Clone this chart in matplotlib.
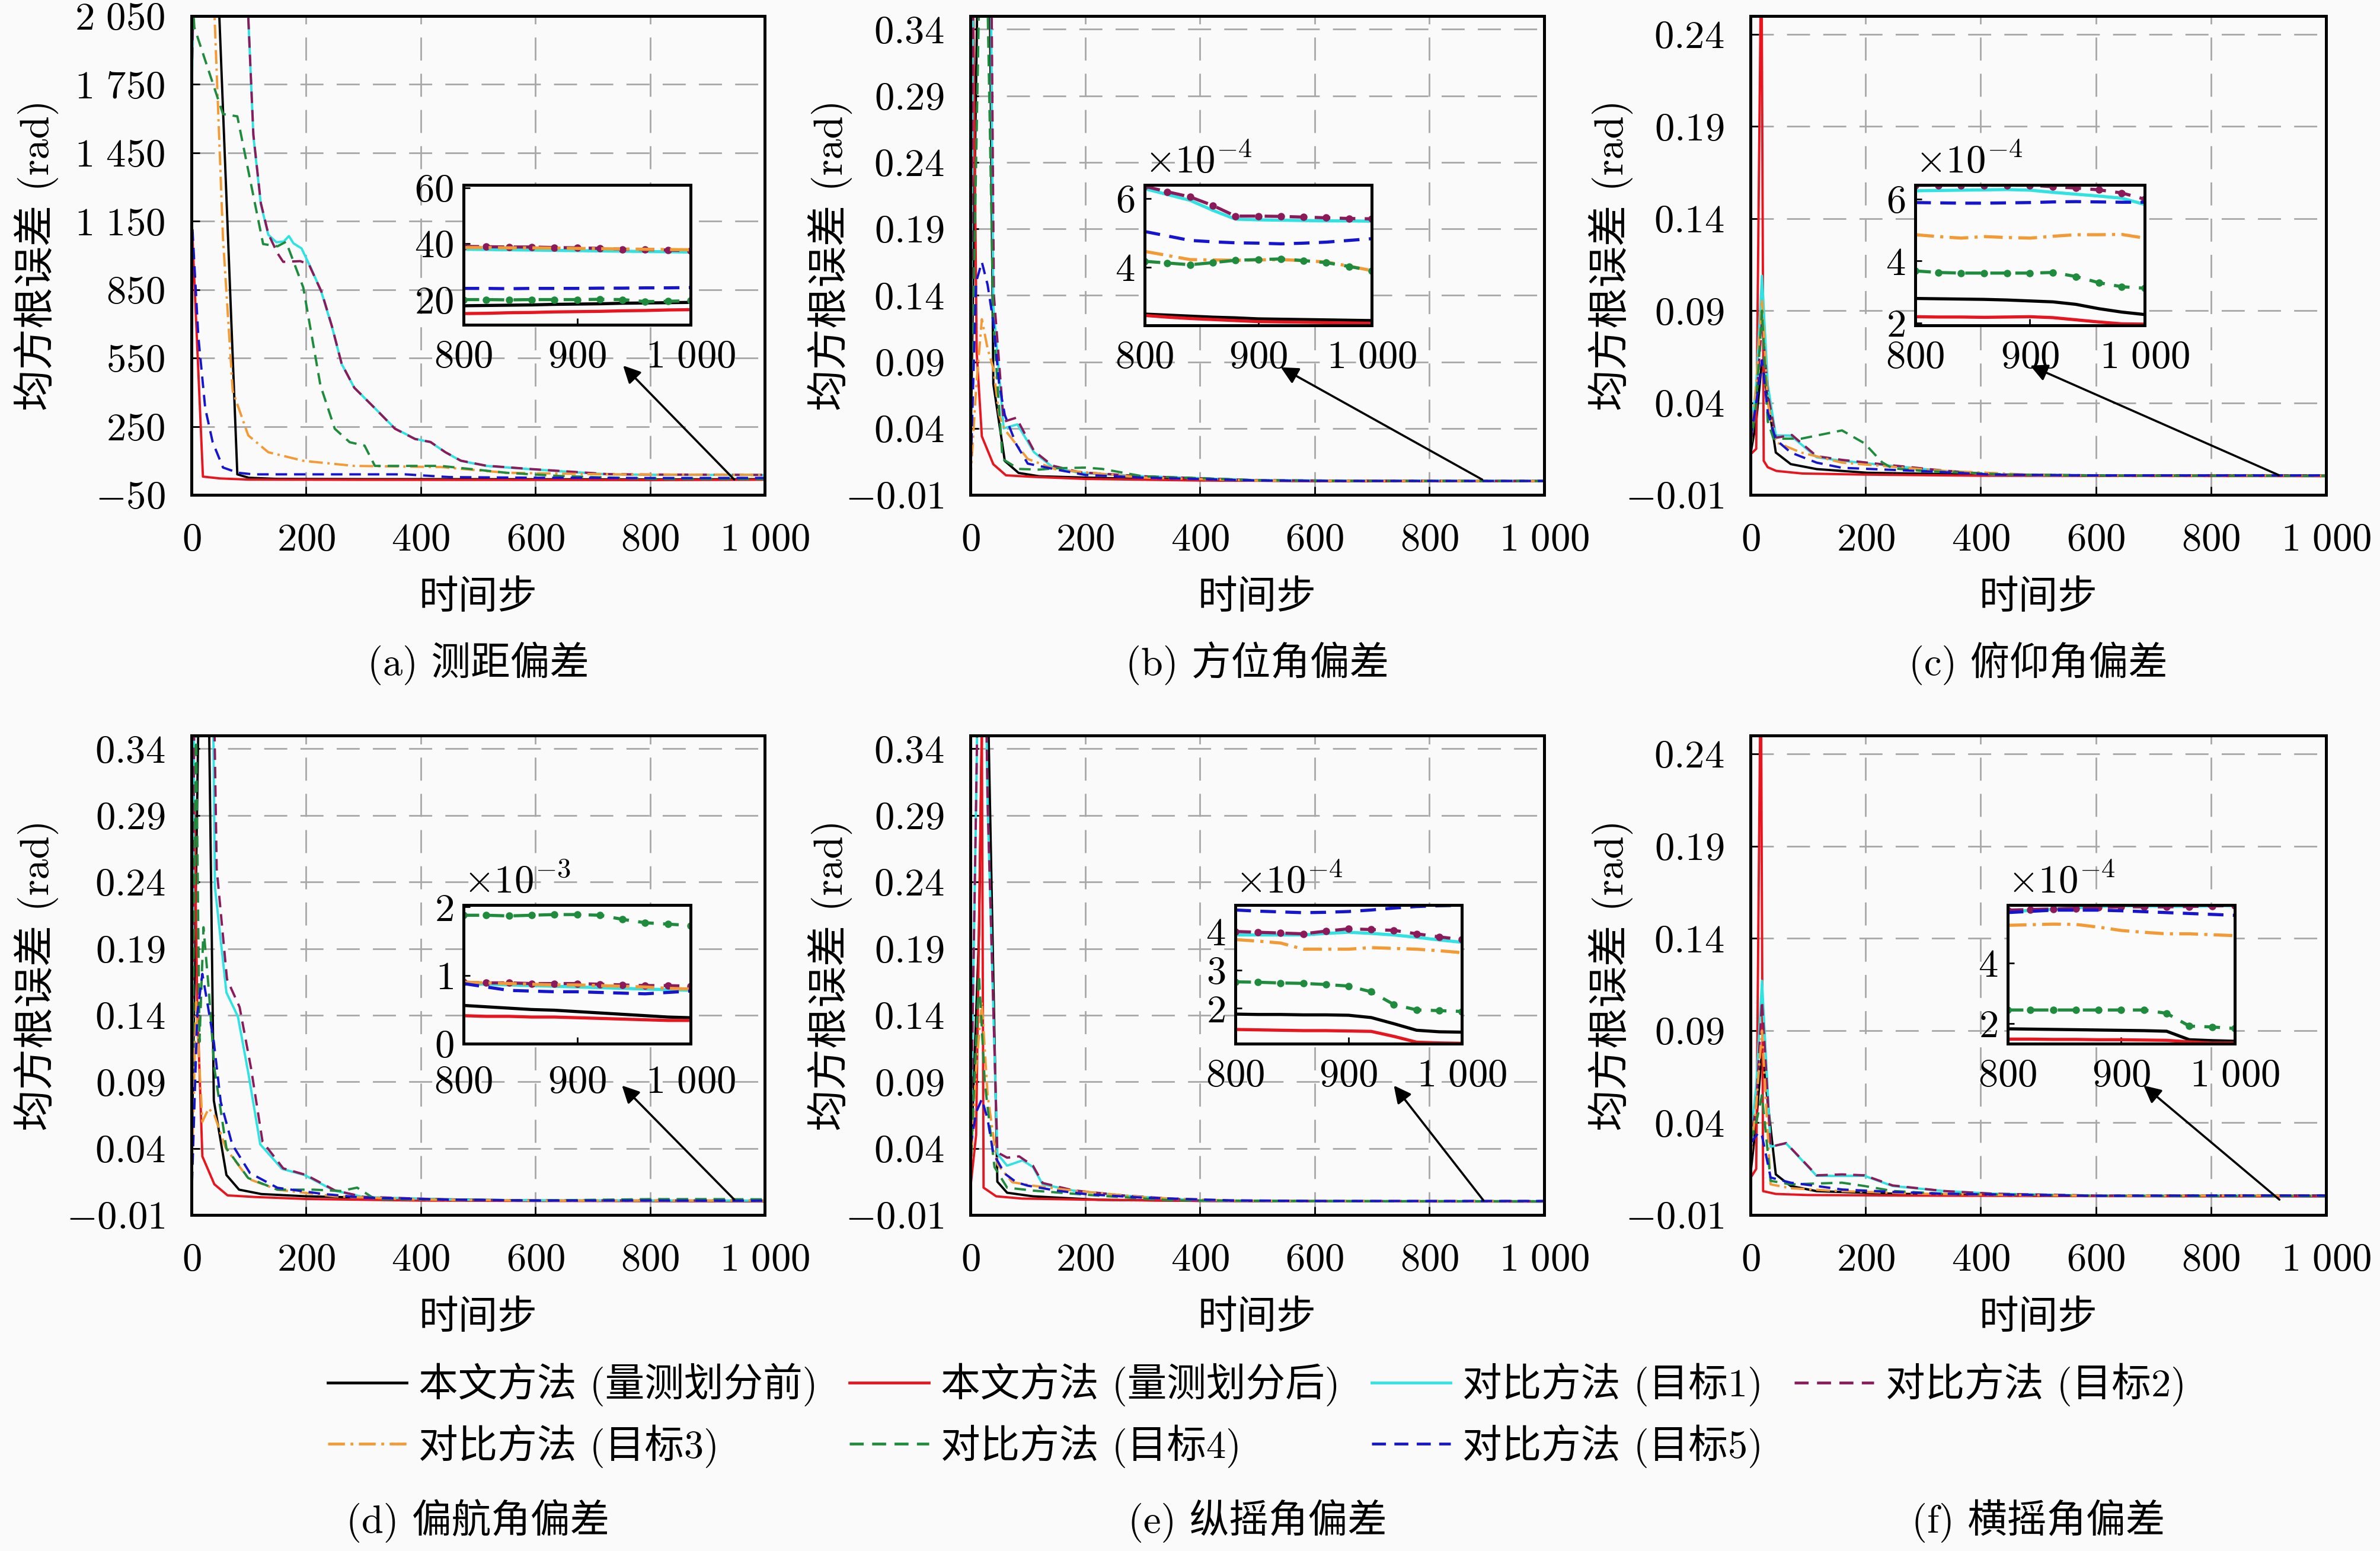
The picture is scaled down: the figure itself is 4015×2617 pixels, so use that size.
import matplotlib.pyplot as plt
from matplotlib.lines import Line2D

plt.rcParams['font.family'] = ['cmr10', 'Noto Sans CJK SC', 'DejaVu Sans']
plt.rcParams['mathtext.fontset'] = 'cm'
plt.rcParams['axes.formatter.use_mathtext'] = True
plt.rcParams['font.size'] = 24

# time steps of the zoomed tail (insets)
T_TAIL = [800, 820, 840, 860, 880, 900, 920, 940, 960, 980, 1000]

# ---------------- (a) 测距偏差  (tail in raw units)
a_pre_t = [0, 40, 80, 100, 150, 300, 600]
a_pre_y = [3000, 2600, 40, 25, 20, 19, 18.5]
a_pre_tail = [17.8, 17.9, 18.0, 18.1, 18.3, 18.4, 18.5, 18.7, 18.8, 18.9, 19.0]
a_post_t = [0, 20, 50, 100, 300, 600]
a_post_y = [1180, 30, 22, 17, 16, 15.5]
a_post_tail = [15.0, 15.1, 15.3, 15.4, 15.6, 15.7, 15.8, 16.0, 16.1, 16.3, 16.4]
a_m1_t = [0, 10, 90, 99, 108, 121, 134, 148, 161, 170, 178, 192, 209, 227, 245, 262, 284,
          320, 355, 390, 417, 443, 470, 514, 594, 726]
a_m1_y = [1650, 3000, 2600, 2050, 1524, 1225, 1091, 1058, 1061, 1085, 1053, 1031, 942, 837,
          688, 524, 420, 330, 241, 196, 181, 137, 99, 77, 62, 40]
a_m1_tail = [38.0, 37.9, 37.8, 37.7, 37.6, 37.5, 37.4, 37.3, 37.2, 37.1, 37.0]
a_m2_t = [0, 10, 90, 99, 108, 121, 134, 150, 160, 190, 205, 227, 245, 262, 284, 320, 355,
          390, 417, 443, 470, 514, 594, 726]
a_m2_y = [1700, 3000, 2600, 2050, 1530, 1230, 1095, 1010, 972, 975, 960, 840, 690, 525, 420,
          330, 240, 195, 182, 137, 100, 78, 63, 41]
a_m2_tail = [39.0, 38.9, 38.8, 38.8, 38.6, 38.5, 38.3, 38.0, 37.9, 37.7, 37.5]
a_m3_t = [0, 35, 55, 72, 99, 134, 196, 284, 435, 549, 726]
a_m3_y = [3000, 2400, 1075, 405, 211, 137, 99, 77, 72, 47, 40]
a_m3_tail = [38.6, 38.6, 38.5, 38.5, 38.4, 38.3, 38.2, 38.1, 38.0, 37.9, 37.8]
a_m4_t = [0, 5, 55, 80, 125, 150, 165, 195, 225, 250, 276, 302, 320, 435, 549, 640]
a_m4_y = [2200, 2000, 1620, 1610, 1050, 1040, 1060, 860, 430, 240, 181, 166, 77, 77, 47, 33]
a_m4_tail = [20.0, 20.0, 19.9, 20.0, 20.0, 20.0, 20.1, 20.0, 19.3, 19.4, 19.6]
a_m5_t = [0, 12, 24, 37, 55, 81, 108, 373, 450, 600]
a_m5_y = [1195, 643, 330, 181, 70, 47, 40, 40, 28, 25]
a_m5_tail = [24.0, 24.0, 23.9, 24.0, 24.0, 24.0, 24.1, 24.1, 24.2, 24.2, 24.3]

# ---------------- (b) 方位角偏差  (tail x1e-4)
b_pre_t = [0, 10, 20, 34, 40, 60, 84, 120, 200, 300, 450, 600]
b_pre_y = [0.01, 0.30, 0.60, 0.36, 0.0735, 0.0155, 0.0065, 0.004, 0.003, 0.002, 0.0008, 0.0004]
b_pre_tail = [2.63, 2.60, 2.57, 2.54, 2.52, 2.49, 2.48, 2.47, 2.46, 2.45, 2.44]
b_post_t = [0, 5, 11, 20, 40, 62, 111, 200, 400, 600]
b_post_y = [0.0, 0.36, 0.097, 0.034, 0.013, 0.0047, 0.0035, 0.002, 0.0008, 0.0004]
b_post_tail = [2.59, 2.54, 2.50, 2.47, 2.44, 2.41, 2.40, 2.39, 2.38, 2.37, 2.36]
b_m1_t = [0, 5, 20, 36, 40, 58, 82, 111, 143, 190, 300, 500, 650]
b_m1_y = [0.0, 0.38, 0.8, 0.36, 0.132, 0.040, 0.043, 0.022, 0.011, 0.0065, 0.004, 0.001, 0.0007]
b_m1_tail = [6.29, 6.12, 5.95, 5.66, 5.40, 5.38, 5.37, 5.36, 5.35, 5.35, 5.34]
b_m2_t = [0, 5, 20, 37, 41, 58, 80, 111, 143, 190, 300, 500, 650]
b_m2_y = [0.0, 0.38, 0.8, 0.36, 0.14, 0.045, 0.048, 0.023, 0.012, 0.007, 0.004, 0.001, 0.0007]
b_m2_tail = [6.36, 6.20, 6.05, 5.80, 5.49, 5.49, 5.48, 5.46, 5.44, 5.42, 5.41]
b_m3_t = [0, 10, 20, 30, 40, 50, 60, 80, 100, 150, 200, 300, 500, 650]
b_m3_y = [0.0, 0.07, 0.122, 0.10, 0.085, 0.05, 0.039, 0.028, 0.017, 0.009, 0.007, 0.003, 0.0008, 0.0005]
b_m3_tail = [4.46, 4.34, 4.22, 4.21, 4.20, 4.21, 4.22, 4.19, 4.15, 4.03, 3.90]
b_m4_t = [0, 15, 22, 30, 40, 56, 84, 120, 150, 200, 230, 300, 500, 650]
b_m4_y = [0.0, 0.36, 0.7, 0.36, 0.12, 0.017, 0.0095, 0.009, 0.01, 0.0105, 0.0095, 0.004, 0.001, 0.0005]
b_m4_tail = [4.17, 4.12, 4.07, 4.13, 4.20, 4.22, 4.24, 4.19, 4.13, 4.02, 3.90]
b_m5_t = [0, 10, 20, 30, 40, 50, 60, 80, 100, 150, 200, 300, 500, 650]
b_m5_y = [0.0, 0.15, 0.165, 0.148, 0.12, 0.074, 0.05, 0.028, 0.0135, 0.009, 0.005, 0.003, 0.0008, 0.0005]
b_m5_tail = [5.04, 4.91, 4.78, 4.74, 4.71, 4.70, 4.68, 4.70, 4.73, 4.78, 4.83]

# ---------------- (c) 俯仰角偏差  (tail x1e-4)
c_pre_t = [0, 10, 20, 44, 70, 115, 203, 400, 600]
c_pre_y = [0.012, 0.03, 0.063, 0.013, 0.0067, 0.004, 0.002, 0.001, 0.0004]
c_pre_tail = [2.79, 2.78, 2.77, 2.76, 2.74, 2.71, 2.68, 2.60, 2.46, 2.35, 2.27]
c_post_t = [0, 10, 19, 23, 30, 45, 90, 200, 400, 600]
c_post_y = [0.012, 0.015, 0.30, 0.0085, 0.005, 0.003, 0.0016, 0.001, 0.0004, 0.0003]
c_post_tail = [2.20, 2.19, 2.19, 2.18, 2.19, 2.20, 2.17, 2.10, 2.03, 1.97, 1.96]
c_m1_t = [0, 10, 20, 30, 44, 70, 115, 159, 247, 335, 423, 600]
c_m1_y = [0.02, 0.05, 0.109, 0.05, 0.0222, 0.0222, 0.0104, 0.0085, 0.0057, 0.003, 0.001, 0.0006]
c_m1_tail = [6.27, 6.28, 6.29, 6.30, 6.31, 6.29, 6.22, 6.16, 6.10, 6.03, 5.83]
c_m2_t = [0, 10, 20, 30, 44, 72, 115, 159, 247, 335, 423, 600]
c_m2_y = [0.018, 0.04, 0.085, 0.045, 0.021, 0.0225, 0.011, 0.009, 0.006, 0.0032, 0.0011, 0.0006]
c_m2_tail = [6.45, 6.45, 6.45, 6.45, 6.45, 6.45, 6.40, 6.36, 6.30, 6.20, 6.00]
c_m3_t = [0, 10, 20, 30, 44, 88, 159, 335, 500, 600]
c_m3_y = [0.014, 0.05, 0.096, 0.04, 0.0186, 0.013, 0.0075, 0.003, 0.0008, 0.0005]
c_m3_tail = [4.85, 4.79, 4.74, 4.79, 4.76, 4.74, 4.80, 4.85, 4.85, 4.86, 4.74]
c_m4_t = [0, 10, 20, 30, 40, 88, 159, 198, 229, 247, 300, 450, 600]
c_m4_y = [0.015, 0.04, 0.09, 0.03, 0.0205, 0.0205, 0.025, 0.018, 0.0076, 0.0044, 0.003, 0.001, 0.0005]
c_m4_tail = [3.68, 3.63, 3.61, 3.61, 3.61, 3.61, 3.63, 3.50, 3.30, 3.17, 3.12]
c_m5_t = [0, 10, 20, 30, 44, 70, 115, 159, 290, 423, 600]
c_m5_y = [0.02, 0.04, 0.063, 0.035, 0.02, 0.013, 0.0075, 0.0047, 0.003, 0.001, 0.0006]
c_m5_tail = [5.89, 5.88, 5.87, 5.87, 5.88, 5.89, 5.91, 5.92, 5.91, 5.90, 5.90]

# ---------------- (d) 偏航角偏差  (tail x1e-3)
d_pre_t = [0, 10, 20, 31, 39, 61, 83, 122, 200, 400, 600]
d_pre_y = [0.02, 0.3, 0.6, 0.35, 0.076, 0.020, 0.009, 0.0057, 0.004, 0.002, 0.0008]
d_pre_tail = [0.56, 0.54, 0.52, 0.50, 0.49, 0.47, 0.45, 0.43, 0.41, 0.39, 0.38]
d_post_t = [0, 5, 10, 19, 40, 63, 110, 200, 400, 600]
d_post_y = [0.02, 0.30, 0.15, 0.034, 0.013, 0.0047, 0.0035, 0.002, 0.0008, 0.0005]
d_post_tail = [0.41, 0.40, 0.40, 0.39, 0.39, 0.38, 0.37, 0.36, 0.35, 0.34, 0.34]
d_m1_t = [0, 5, 20, 38, 41, 61, 81, 99, 120, 158, 197, 249, 300, 450, 600]
d_m1_y = [0.0, 0.38, 0.8, 0.36, 0.236, 0.157, 0.139, 0.097, 0.043, 0.0246, 0.020, 0.0083, 0.0035, 0.0015, 0.001]
d_m1_tail = [0.88, 0.87, 0.86, 0.85, 0.84, 0.83, 0.82, 0.81, 0.80, 0.79, 0.78]
d_m2_t = [0, 5, 20, 40, 44, 62, 84, 104, 124, 160, 200, 250, 300, 450, 600]
d_m2_y = [0.0, 0.38, 0.8, 0.36, 0.25, 0.167, 0.146, 0.10, 0.045, 0.025, 0.020, 0.0085, 0.0036, 0.0015, 0.001]
d_m2_tail = [0.90, 0.89, 0.89, 0.88, 0.88, 0.88, 0.87, 0.86, 0.85, 0.85, 0.84]
d_m3_t = [0, 8, 19, 30, 40, 60, 100, 150, 250, 400, 600]
d_m3_y = [0.01, 0.15, 0.06, 0.07, 0.065, 0.04, 0.017, 0.009, 0.004, 0.0015, 0.0008]
d_m3_tail = [0.90, 0.89, 0.88, 0.87, 0.86, 0.86, 0.85, 0.84, 0.83, 0.81, 0.80]
d_m4_t = [0, 8, 14, 21, 30, 40, 61, 99, 150, 213, 260, 289, 320, 450, 600]
d_m4_y = [0.03, 0.36, 0.12, 0.206, 0.16, 0.10, 0.040, 0.0177, 0.009, 0.009, 0.008, 0.0105, 0.002, 0.0015, 0.0008]
d_m4_tail = [1.88, 1.88, 1.87, 1.88, 1.89, 1.89, 1.88, 1.82, 1.77, 1.75, 1.73]
d_m5_t = [0, 10, 19, 29, 39, 51, 71, 102, 150, 229, 300, 450, 600]
d_m5_y = [0.0, 0.14, 0.171, 0.146, 0.12, 0.075, 0.043, 0.0215, 0.0104, 0.0058, 0.003, 0.0015, 0.0008]
d_m5_tail = [0.88, 0.83, 0.78, 0.77, 0.76, 0.76, 0.75, 0.74, 0.73, 0.75, 0.77]

# ---------------- (e) 纵摇角偏差  (tail x1e-4)
e_pre_t = [0, 15, 25, 47, 64, 109, 223, 400, 600]
e_pre_y = [0.02, 0.2, 0.5, 0.015, 0.0067, 0.004, 0.0014, 0.0006, 0.0004]
e_pre_tail = [1.85, 1.84, 1.84, 1.83, 1.83, 1.82, 1.76, 1.60, 1.43, 1.39, 1.38]
e_post_t = [0, 10, 20, 23, 45, 90, 200, 400, 600]
e_post_y = [0.01, 0.05, 0.36, 0.0105, 0.004, 0.0023, 0.0015, 0.0005, 0.0003]
e_post_tail = [1.45, 1.44, 1.43, 1.42, 1.42, 1.41, 1.40, 1.27, 1.12, 1.10, 1.09]
e_m1_t = [0, 10, 20, 30, 47, 64, 91, 109, 126, 179, 267, 400, 600]
e_m1_y = [0.03, 0.3, 0.6, 0.3, 0.036, 0.027, 0.031, 0.026, 0.013, 0.0083, 0.0045, 0.0008, 0.0004]
e_m1_tail = [3.91, 3.91, 3.91, 3.91, 3.95, 3.98, 3.95, 3.91, 3.85, 3.78, 3.72]
e_m2_t = [0, 10, 20, 30, 47, 64, 85, 109, 126, 179, 267, 400, 600]
e_m2_y = [0.03, 0.3, 0.6, 0.3, 0.037, 0.033, 0.034, 0.027, 0.014, 0.0085, 0.0046, 0.0008, 0.0004]
e_m2_tail = [4.00, 3.98, 3.96, 3.94, 4.01, 4.07, 4.05, 4.03, 3.94, 3.86, 3.79]
e_m3_t = [0, 10, 20, 30, 47, 73, 109, 179, 310, 450, 600]
e_m3_y = [0.02, 0.1, 0.15, 0.08, 0.028, 0.0146, 0.012, 0.0083, 0.003, 0.0008, 0.0004]
e_m3_tail = [3.79, 3.75, 3.70, 3.54, 3.54, 3.54, 3.58, 3.56, 3.54, 3.50, 3.45]
e_m4_t = [0, 15, 25, 42, 64, 109, 223, 350, 600]
e_m4_y = [0.02, 0.17, 0.09, 0.026, 0.0105, 0.0083, 0.0045, 0.001, 0.0004]
e_m4_tail = [2.69, 2.68, 2.66, 2.65, 2.62, 2.58, 2.43, 2.10, 1.96, 1.94, 1.92]
e_m5_t = [0, 10, 20, 30, 40, 60, 80, 100, 150, 200, 300, 450, 600]
e_m5_y = [0.041, 0.067, 0.077, 0.062, 0.036, 0.021, 0.0146, 0.012, 0.0083, 0.0057, 0.003, 0.001, 0.0005]
e_m5_tail = [4.56, 4.53, 4.51, 4.49, 4.50, 4.52, 4.56, 4.61, 4.65, 4.67, 4.68]

# ---------------- (f) 横摇角偏差  (tail x1e-4)
f_pre_t = [0, 10, 20, 44, 70, 115, 250, 450, 600]
f_pre_y = [0.012, 0.04, 0.079, 0.012, 0.0057, 0.0029, 0.0015, 0.0006, 0.0003]
f_pre_tail = [1.83, 1.82, 1.81, 1.80, 1.79, 1.78, 1.77, 1.75, 1.47, 1.44, 1.42]
f_post_t = [0, 10, 18, 22, 44, 100, 300, 600]
f_post_y = [0.01, 0.015, 0.30, 0.0029, 0.0014, 0.0008, 0.0005, 0.0002]
f_post_tail = [1.49, 1.49, 1.48, 1.48, 1.47, 1.47, 1.46, 1.45, 1.40, 1.36, 1.36]
f_m1_t = [0, 10, 20, 35, 62, 115, 159, 198, 247, 335, 423, 600]
f_m1_y = [0.03, 0.06, 0.117, 0.027, 0.0288, 0.0112, 0.0112, 0.0112, 0.0057, 0.003, 0.0015, 0.0005]
f_m1_tail = [5.69, 5.73, 5.77, 5.82, 5.86, 5.89, 5.88, 5.87, 5.87, 5.88, 5.89]
f_m2_t = [0, 10, 20, 35, 62, 115, 159, 198, 247, 335, 423, 600]
f_m2_y = [0.028, 0.05, 0.106, 0.027, 0.029, 0.0115, 0.012, 0.0115, 0.006, 0.003, 0.0015, 0.0005]
f_m2_tail = [5.74, 5.76, 5.78, 5.80, 5.83, 5.85, 5.85, 5.85, 5.86, 5.88, 5.89]
f_m3_t = [0, 10, 20, 35, 70, 150, 300, 450, 600]
f_m3_y = [0.02, 0.05, 0.09, 0.0066, 0.0045, 0.003, 0.0015, 0.0008, 0.0004]
f_m3_tail = [5.24, 5.26, 5.28, 5.27, 5.18, 5.07, 5.01, 4.96, 4.96, 4.93, 4.90]
f_m4_t = [0, 10, 20, 35, 70, 159, 198, 247, 335, 600]
f_m4_y = [0.03, 0.04, 0.055, 0.0085, 0.0066, 0.0075, 0.0057, 0.003, 0.0015, 0.0004]
f_m4_tail = [2.45, 2.45, 2.45, 2.45, 2.45, 2.45, 2.45, 2.34, 1.92, 1.89, 1.84]
f_m5_t = [0, 15, 20, 35, 70, 115, 159, 247, 335, 600]
f_m5_y = [0.029, 0.035, 0.033, 0.0103, 0.0075, 0.0057, 0.0038, 0.0025, 0.0015, 0.0004]
f_m5_tail = [5.66, 5.70, 5.74, 5.74, 5.74, 5.72, 5.69, 5.66, 5.63, 5.60, 5.57]

LABELS = ['本文方法 (量测划分前)', '本文方法 (量测划分后)', '对比方法 (目标1)', '对比方法 (目标2)',
          '对比方法 (目标3)', '对比方法 (目标4)', '对比方法 (目标5)']
DASH = (0, (5, 3))
STYLES = [dict(color='black', ls='-'),
          dict(color='#e8141e', ls='-'),
          dict(color='#30e3e3', ls='-'),
          dict(color='#8c1a5a', ls=DASH),
          dict(color='#f39a35', ls=(0, (6, 2, 1, 2))),
          dict(color='#1e8c3c', ls=DASH),
          dict(color='#1515d0', ls=DASH)]
DOTTED = [False, False, False, True, False, True, False]

W, H = 4016, 2617
BIG = [-0.01, 0.04, 0.09, 0.14, 0.19, 0.24, 0.29, 0.34]
SMALL = [-0.01, 0.04, 0.09, 0.14, 0.19, 0.24]

panels = [
    dict(cap='(a) 测距偏差', pos=(323, 27, 1290, 835), ylim=(-50, 2050),
         yt=[-50, 250, 550, 850, 1150, 1450, 1750, 2050], nd=0, ylx=-0.232,
         ins=(782, 312, 1165, 548), iylim=(11, 61), iyt=[20, 40, 60], exp=None, ipad=9,
         arrow=((753, 517), (947, 17)),
         data=[(a_pre_t, a_pre_y, a_pre_tail), (a_post_t, a_post_y, a_post_tail),
               (a_m1_t, a_m1_y, a_m1_tail), (a_m2_t, a_m2_y, a_m2_tail),
               (a_m3_t, a_m3_y, a_m3_tail), (a_m4_t, a_m4_y, a_m4_tail),
               (a_m5_t, a_m5_y, a_m5_tail)]),
    dict(cap='(b) 方位角偏差', pos=(1637, 27, 2605, 835), ylim=(-0.01, 0.35), yt=BIG, nd=2,
         ylx=-0.206, ins=(1931, 312, 2314, 549), iylim=(2.3, 6.4), iyt=[4, 6], exp=-4, ipad=9,
         arrow=((541, 0.0859), (892, 0.0015)),
         data=[(b_pre_t, b_pre_y, b_pre_tail), (b_post_t, b_post_y, b_post_tail),
               (b_m1_t, b_m1_y, b_m1_tail), (b_m2_t, b_m2_y, b_m2_tail),
               (b_m3_t, b_m3_y, b_m3_tail), (b_m4_t, b_m4_y, b_m4_tail),
               (b_m5_t, b_m5_y, b_m5_tail)]),
    dict(cap='(c) 俯仰角偏差', pos=(2953, 27, 3924, 835), ylim=(-0.01, 0.25), yt=SMALL, nd=2,
         ylx=-0.204, ins=(3231, 312, 3618, 549), iylim=(1.92, 6.46), iyt=[2, 4, 6], exp=-4, ipad=9,
         arrow=((486, 0.0602), (918, 0.0007)),
         data=[(c_pre_t, c_pre_y, c_pre_tail), (c_post_t, c_post_y, c_post_tail),
               (c_m1_t, c_m1_y, c_m1_tail), (c_m2_t, c_m2_y, c_m2_tail),
               (c_m3_t, c_m3_y, c_m3_tail), (c_m4_t, c_m4_y, c_m4_tail),
               (c_m5_t, c_m5_y, c_m5_tail)]),
    dict(cap='(d) 偏航角偏差', pos=(323, 1241, 1290, 2050), ylim=(-0.01, 0.35), yt=BIG, nd=2,
         ylx=-0.232, ins=(782, 1527, 1165, 1761), iylim=(0.0, 2.03), iyt=[0, 1, 2], exp=-3, ipad=13,
         arrow=((751, 0.0872), (947, 0.0015)),
         data=[(d_pre_t, d_pre_y, d_pre_tail), (d_post_t, d_post_y, d_post_tail),
               (d_m1_t, d_m1_y, d_m1_tail), (d_m2_t, d_m2_y, d_m2_tail),
               (d_m3_t, d_m3_y, d_m3_tail), (d_m4_t, d_m4_y, d_m4_tail),
               (d_m5_t, d_m5_y, d_m5_tail)]),
    dict(cap='(e) 纵摇角偏差', pos=(1637, 1241, 2605, 2050), ylim=(-0.01, 0.35), yt=BIG, nd=2,
         ylx=-0.206, ins=(2084, 1527, 2466, 1761), iylim=(1.08, 4.69), iyt=[2, 3, 4], exp=-4, ipad=9,
         arrow=((738, 0.0872), (894, 0.001)),
         data=[(e_pre_t, e_pre_y, e_pre_tail), (e_post_t, e_post_y, e_post_tail),
               (e_m1_t, e_m1_y, e_m1_tail), (e_m2_t, e_m2_y, e_m2_tail),
               (e_m3_t, e_m3_y, e_m3_tail), (e_m4_t, e_m4_y, e_m4_tail),
               (e_m5_t, e_m5_y, e_m5_tail)]),
    dict(cap='(f) 横摇角偏差', pos=(2953, 1241, 3924, 2050), ylim=(-0.01, 0.25), yt=SMALL, nd=2,
         ylx=-0.204, ins=(3387, 1527, 3770, 1761), iylim=(1.34, 5.91), iyt=[2, 4], exp=-4, ipad=9,
         arrow=((683, 0.0602), (919, -0.0017)),
         data=[(f_pre_t, f_pre_y, f_pre_tail), (f_post_t, f_post_y, f_post_tail),
               (f_m1_t, f_m1_y, f_m1_tail), (f_m2_t, f_m2_y, f_m2_tail),
               (f_m3_t, f_m3_y, f_m3_tail), (f_m4_t, f_m4_y, f_m4_tail),
               (f_m5_t, f_m5_y, f_m5_tail)]),
]


def num(v, nd):
    s = f'{abs(v):,.{nd}f}'.replace(',', r'\ ')
    return ('$-' if v < 0 else '$') + s + '$'


def box(x0, y0, x1, y1):
    return [x0 / W, 1 - y1 / H, (x1 - x0) / W, (y1 - y0) / H]


fig = plt.figure(figsize=(W / 200, H / 200), dpi=200, facecolor='#fafafa')

for p in panels:
    ax = fig.add_axes(box(*p['pos']))
    ax.set_facecolor('#fafafa')
    scale = 1 if p['exp'] is None else 10.0 ** p['exp']
    for (t, y, tail), st in zip(p['data'], STYLES):
        ax.plot(t + T_TAIL, y + [v * scale for v in tail], lw=1.4, **st)
    ax.set_xlim(0, 1000)
    ax.set_ylim(*p['ylim'])
    xt = [0, 200, 400, 600, 800, 1000]
    ax.set_xticks(xt, [num(v, 0) for v in xt])
    ax.set_yticks(p['yt'], [num(v, p['nd']) for v in p['yt']])
    ax.tick_params(direction='in', length=5, width=1.0, labelsize=24)
    ax.tick_params(axis='x', pad=17)
    ax.tick_params(axis='y', pad=16)
    ax.grid(True, color='#a8a8a8', ls=(0, (14, 8)), lw=1.0)
    for s in ax.spines.values():
        s.set_linewidth(1.8)
    ax.set_xlabel('时间步', fontsize=24)
    ax.xaxis.set_label_coords(0.5, -0.178)
    ax.set_ylabel('均方根误差 (rad)', fontsize=25)
    ax.yaxis.set_label_coords(p['ylx'], 0.5)

    (hx, hy), (tx, ty) = p['arrow']
    ax.annotate('', xy=(hx, hy), xytext=(tx, ty),
                arrowprops=dict(arrowstyle='-|>', color='black', lw=1.3,
                                mutation_scale=22, shrinkA=0, shrinkB=0))

    # zoomed inset over the last 200 steps
    ai = fig.add_axes(box(*p['ins']))
    ai.set_facecolor('#fbfbfb')
    for (t, y, tail), st, dot in zip(p['data'], STYLES, DOTTED):
        ai.plot(T_TAIL, tail, lw=1.9, marker='o' if dot else None, ms=3.5, **st)
    ai.set_xlim(800, 1000)
    ai.set_ylim(*p['iylim'])
    ai.set_xticks([800, 900, 1000], [num(v, 0) for v in [800, 900, 1000]])
    ai.set_yticks(p['iyt'], [num(v, 0) for v in p['iyt']])
    ai.tick_params(direction='in', length=4, width=1.0, labelsize=24)
    ai.tick_params(axis='x', pad=p['ipad'])
    ai.tick_params(axis='y', pad=6)
    for s in ai.spines.values():
        s.set_linewidth(1.8)
    if p['exp'] is not None:
        ai.text(0.0, 1.03, r'$\times 10^{%d}$' % p['exp'], transform=ai.transAxes,
                ha='left', va='bottom', fontsize=24)

    x0, y0, x1, y1 = p['pos']
    cap_y = 1119 if y0 < 1000 else 2566
    fig.text((x0 + x1) / 2 / W, 1 - cap_y / H, p['cap'], ha='center', va='center', fontsize=24)

# legend laid out row by row (4 columns)
handles = [Line2D([], [], lw=1.7, **st) for st in STYLES]
order = [0, 4, 1, 5, 2, 6, 3]
fig.legend([handles[i] for i in order], [LABELS[i] for i in order], loc='center',
           bbox_to_anchor=(0.528, 0.0875), ncol=4, frameon=False, fontsize=24,
           handlelength=2.0, handletextpad=0.3, columnspacing=0.8, labelspacing=0.45)

fig.savefig('out.png', dpi=200, facecolor=fig.get_facecolor())
